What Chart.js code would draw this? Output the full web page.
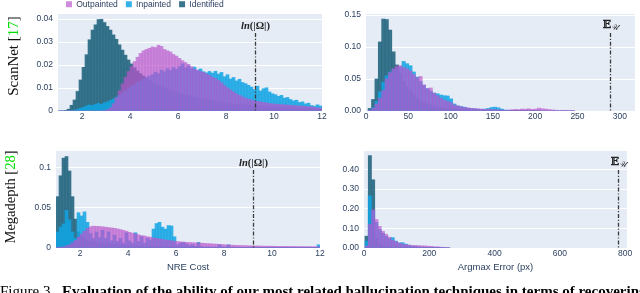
<!DOCTYPE html>
<html><head><meta charset="utf-8">
<script src="https://cdn.jsdelivr.net/npm/chart.js@4/dist/chart.umd.min.js"></script>
<style>
html,body{margin:0;padding:0;background:#fff;width:640px;height:293px;overflow:hidden;}
body{position:relative;}
canvas{position:absolute;}
.rowlab{position:absolute;font-family:"Liberation Serif","Times New Roman",serif;color:#111;white-space:nowrap;line-height:1;transform:translate(-50%,-50%) rotate(-90deg);}
.cite{color:#00e000;}
#caption{position:absolute;left:0;top:283px;font-family:"Liberation Serif","Times New Roman",serif;font-size:15px;line-height:16px;white-space:nowrap;color:#000;}
</style></head><body>
<canvas id="tl" width="332" height="133" style="left:0;top:-8px;width:332px;height:133px;"></canvas>
<canvas id="tr" width="308" height="125" style="left:332px;top:0;width:308px;height:125px;"></canvas>
<canvas id="bl" width="332" height="160" style="left:0;top:125px;width:332px;height:160px;"></canvas>
<canvas id="br" width="308" height="160" style="left:332px;top:125px;width:308px;height:160px;"></canvas>
<div class="rowlab" style="left:13px;top:56px;font-size:15px;">ScanNet [<span class="cite">17</span>]</div>
<div class="rowlab" style="left:10px;top:197px;font-size:14.5px;">Megadepth [<span class="cite">28</span>]</div>
<div id="caption">Figure 3. <b style="margin-left:4px">Evaluation of the ability of our most related hallucination techniques in terms of recovering correspondences on the test set</b></div>
<script>
// ---------- data ----------
const seriesNames = ['Outpainted', 'Inpainted', 'Identified'];

// NRE cost histograms (ScanNet), bins of 0.125 starting at 1.0
const nreBinStart = 1.0, nreBinWidth = 0.125;
const tlOutpainted = [0,0,0,0,0,0,0,0,0,0,
 0,0,0,0,0,0.0002,0.0006,0.0014,0.0032,0.0058,
 0.0088,0.0118,0.0147,0.0172,0.0193,0.0215,0.0234,0.0251,0.0262,0.0268,
 0.0273,0.0279,0.0276,0.0286,0.0281,0.0268,0.0262,0.0257,0.0246,0.0239,
 0.0229,0.0219,0.0211,0.0203,0.0193,0.0182,0.0178,0.0172,0.0168,0.0161,
 0.0155,0.0147,0.0141,0.0133,0.0123,0.0111,0.0101,0.0092,0.0083,0.0075,
 0.0068,0.0061,0.0056,0.0051,0.0048,0.0045,0.0042,0.004,0.0037,0.0035,
 0.0033,0.0031,0.003,0.0029,0.0028,0.0027,0.0026,0.0025,0.0024,0.0023,
 0.0022,0.0021,0.002,0.0019,0.0018,0.0016,0.0014,0.0012];
const tlInpainted = [0,0,0,0,0.0002,0.0004,0.0007,0.0012,0.0016,0.0022,
 0.0026,0.0024,0.003,0.0033,0.0029,0.0036,0.004,0.0046,0.0052,0.006,
 0.0068,0.0079,0.0088,0.0097,0.0108,0.0114,0.0125,0.0131,0.0139,0.0147,
 0.0152,0.0158,0.0169,0.0162,0.0178,0.0171,0.0184,0.0176,0.0189,0.0181,
 0.0193,0.0205,0.0188,0.0196,0.0185,0.0191,0.0176,0.0183,0.0171,0.0166,
 0.0172,0.0165,0.0173,0.0161,0.0168,0.0149,0.0158,0.0139,0.0146,0.0131,
 0.0138,0.0124,0.0119,0.0112,0.0104,0.0093,0.0108,0.0087,0.0097,0.0101,
 0.0083,0.0075,0.0071,0.0064,0.0068,0.0056,0.0059,0.005,0.0044,0.0047,
 0.0037,0.004,0.0031,0.0034,0.0024,0.0021,0.0027,0.0022];
const tlIdentified = [0,0,0.0003,0.0008,0.0025,0.0048,0.0085,0.0135,0.019,0.0245,
 0.031,0.0352,0.0375,0.0398,0.0399,0.0385,0.0368,0.0352,0.0331,0.0312,
 0.0288,0.0265,0.0243,0.0222,0.0205,0.0188,0.0174,0.0162,0.0152,0.0141,
 0.0133,0.0125,0.0118,0.0111,0.0105,0.0099,0.0094,0.0089,0.0085,0.0081,
 0.0077,0.0073,0.0069,0.0066,0.0062,0.0059,0.0056,0.0054,0.0051,0.0049,
 0.0046,0.0044,0.0042,0.004,0.0038,0.0036,0.0034,0.0033,0.0031,0.003,
 0.0028,0.0027,0.0026,0.0025,0.0024,0.0023,0.0022,0.0021,0.002,0.0019,
 0.0018,0.0018,0.0017,0.0016,0.0015,0.0015,0.0014,0.0013,0.0013,0.0012,
 0.0011,0.0011,0.001,0.001,0.0009,0.0009,0.0008,0.0008];

// Argmax error histograms (ScanNet), bins of 4 px starting at 2.5
const trBinStart = 2.5, trBinWidth = 4;
const trOutpainted = [0.001,0.004,0.011,0.02,0.032,0.05,0.06,0.066,0.07,0.071,
 0.068,0.066,0.0625,0.057,0.052,0.054,0.041,0.035,0.036,0.028,
 0.024,0.02,0.017,0.015,0.013,0.0095,0.008,0.0065,0.0055,0.0048,
 0.0042,0.0037,0.0033,0.003,0.0025,0.0028,0.0024,0.0022,0.0018,0.0015,
 0.0012,0.0015,0.002,0.0025,0.0022,0.003,0.0028,0.0035,0.0025,0.003,
 0.0045,0.0035,0.003,0.0022,0.0018,0.0012,0.0008,0.0012,0.0006,0.0008,
 0.0004];
const trInpainted = [0.001,0.005,0.015,0.03,0.045,0.055,0.061,0.065,0.067,0.069,
 0.0775,0.074,0.0707,0.061,0.053,0.046,0.04,0.035,0.031,0.028,
 0.027,0.025,0.024,0.0235,0.019,0.011,0.008,0.007,0.006,0.0045,
 0.004,0.0035,0.003,0.0025,0.003,0.004,0.0055,0.006,0.005,0.003,
 0.0015,0.0005,0,0,0,0,0,0,0,0,
 0,0,0,0,0,0,0,0,0,0,
 0];
const trIdentified = [0.004,0.018,0.05,0.108,0.1437,0.143,0.1265,0.0925,0.072,0.058,
 0.047,0.038,0.031,0.025,0.02,0.016,0.013,0.011,0.009,0.0075,
 0.0063,0.0053,0.0045,0.0038,0.0032,0.0027,0.0023,0.0019,0.0016,0.0013,
 0.0011,0.0009,0.0008,0.0007,0.0006,0.0005,0.0005,0.0004,0.0004,0.0003,
 0.0003,0.0003,0.0002,0.0002,0.0002,0.0002,0.0001,0.0001,0.0001,0.0001,
 0.0001,0,0,0,0,0,0,0,0,0,
 0];

// NRE cost histograms (Megadepth), bins of 0.125 starting at 1.0
const blOutpainted = [0.0005,0.001,0.0015,0.0025,0.004,0.0065,0.0095,0.0135,0.0175,0.021,
 0.0245,0.0265,0.0272,0.027,0.0268,0.0265,0.026,0.0255,0.025,0.0245,
 0.0238,0.023,0.022,0.021,0.0195,0.0185,0.0175,0.0165,0.0155,0.015,
 0.014,0.0135,0.0125,0.012,0.0112,0.0106,0.01,0.0095,0.009,0.0085,
 0.008,0.0077,0.0074,0.0071,0.0068,0.0066,0.0064,0.0062,0.006,0.0058,
 0.0055,0.0053,0.005,0.0048,0.0045,0.0043,0.004,0.0038,0.0036,0.0034,
 0.0032,0.0031,0.003,0.0029,0.0028,0.0027,0.0026,0.0025,0.0024,0.0023,
 0.0023,0.0022,0.0022,0.0021,0.0021,0.002,0.002,0.002,0.0019,0.0019,
 0.0018,0.0018,0.0018,0.0017,0.0017,0.0016,0.0016,0.0015];
const blInpainted = [0.02,0.026,0.03,0.047,0.035,0.02,0.012,0.044,0.04,0.045,
 0.032,0.018,0.012,0.02,0.013,0.022,0.012,0.02,0.009,0.016,
 0.008,0.012,0.006,0.019,0.009,0.006,0.019,0.008,0.014,0.006,
 0.012,0.01,0.0236,0.0305,0.032,0.026,0.0236,0.028,0.0275,0.014,
 0.004,0.006,0.007,0.005,0.003,0.004,0.002,0.007,0.002,0.001,
 0.0015,0.001,0.0012,0.001,0.004,0.0015,0.001,0.004,0.0008,0.0006,
 0.0005,0.0006,0.0004,0.0005,0.0004,0.0003,0.0005,0.0004,0.0003,0.0004,
 0.0003,0.0004,0.0003,0.0003,0.0002,0.0003,0.0002,0.0003,0.0002,0.0002,
 0.0002,0.0003,0.0002,0.0002,0.0002,0.0002,0.0003,0.004];
const blIdentified = [0.064,0.09,0.112,0.114,0.096,0.064,0.036,0.02,0.015,0.012,
 0.01,0.0088,0.0078,0.007,0.0064,0.0058,0.0053,0.0049,0.0045,0.0042,
 0.0039,0.0036,0.0034,0.0032,0.003,0.0028,0.0026,0.0025,0.0023,0.0022,
 0.0021,0.002,0.0019,0.0018,0.0017,0.0016,0.0015,0.0014,0.0013,0.0013,
 0.0012,0.0012,0.0011,0.0011,0.001,0.001,0.0009,0.0009,0.0008,0.0008,
 0.0008,0.0007,0.0007,0.0007,0.0006,0.0006,0.0006,0.0005,0.0005,0.0005,
 0.0005,0.0004,0.0004,0.0004,0.0004,0.0004,0.0003,0.0003,0.0003,0.0003,
 0.0003,0.0003,0.0003,0.0002,0.0002,0.0002,0.0002,0.0002,0.0002,0.0002,
 0.0002,0.0002,0.0002,0.0002,0.0001,0.0001,0.0001,0.0001];

// Argmax error histograms (Megadepth), bins of 10 px starting at 3
const brBinStart = 3, brBinWidth = 10;
const brOutpainted = [0.01,0.12,0.195,0.145,0.11,0.085,0.07,0.055,0.04,0.032,
 0.025,0.02,0.017,0.015,0.013,0.013,0.012,0.011,0.011,0.009,
 0.008,0.006,0.006,0.004,0.003,0.002];
const brInpainted = [0.035,0.265,0.19,0.13,0.095,0.075,0.06,0.048,0.053,0.035,
 0.026,0.027,0.02,0.014,0.01,0.008,0.006,0.004,0.003,0.002,
 0.0015,0.001,0.0008,0.0005,0.0003,0];
const brIdentified = [0.06,0.47,0.347,0.05,0.02,0.012,0.008,0.005,0.004,0.003,
 0.002,0.0015,0.001,0.001,0.0008,0.0006,0.0005,0.0004,0.0003,0.0002,
 0.0002,0.0001,0.0001,0,0,0];

// tick labels
const nreXTicks = [2, 4, 6, 8, 10, 12];
const nreXLabels = ['2', '4', '6', '8', '10', '12'];
const tlYTicks = [0, 0.01, 0.02, 0.03, 0.04];
const tlYLabels = ['0', '0.01', '0.02', '0.03', '0.04'];
const trXTicks = [0, 50, 100, 150, 200, 250, 300];
const trXLabels = ['0', '50', '100', '150', '200', '250', '300'];
const trYTicks = [0, 0.05, 0.1, 0.15];
const trYLabels = ['0.00', '0.05', '0.10', '0.15'];
const blYTicks = [0, 0.05, 0.1];
const blYLabels = ['0', '0.05', '0.1'];
const brXTicks = [0, 200, 400, 600, 800];
const brXLabels = ['0', '200', '400', '600', '800'];
const brYTicks = [0, 0.1, 0.2, 0.3, 0.4];
const brYLabels = ['0.00', '0.10', '0.20', '0.30', '0.40'];

// reference lines
const lnOmega = 9.21;          // ln(|Ω|)
const expUniformScanNet = 288; // E_U
const expUniformMega = 778;    // E_U

// ---------- style ----------
const colors = {
  Outpainted: 'rgba(186,85,205,0.67)',
  Inpainted: 'rgba(18,164,227,0.85)',
  Identified: 'rgba(36,102,128,0.9)'
};
const tickColor = '#2a3f5f';
const sansFamily = '"Liberation Sans", Arial, sans-serif';
Chart.defaults.font.family = sansFamily;

function binCenters(start, width, n) {
  const c = [];
  for (let i = 0; i < n; i++) c.push(start + width * (i + 0.5));
  return c;
}

const plotBg = {
  id: 'plotBg',
  beforeDraw(chart) {
    const { ctx, chartArea: a } = chart;
    ctx.save();
    ctx.fillStyle = '#e5ecf6';
    ctx.fillRect(a.left, a.top, a.right - a.left, a.bottom - a.top);
    ctx.restore();
  }
};

const legendHeight = {
  id: 'legendHeight',
  beforeLayout(chart, args, opts) {
    const lg = chart.legend;
    if (lg && !lg.__patched) {
      const f = lg.fit;
      lg.fit = function () { f.call(this); if (this.options.display) this.height = opts.height || 22; };
      lg.__patched = true;
    }
  }
};

const refLine = {
  id: 'refLine',
  afterDatasetsDraw(chart, args, opts) {
    if (opts.value === undefined) return;
    const { ctx, chartArea: a } = chart;
    const x = Math.round(chart.scales.x.getPixelForValue(opts.value)) + 0.5;
    ctx.save();
    ctx.strokeStyle = '#3a3a3a';
    ctx.lineWidth = 1.3;
    ctx.setLineDash([4, 1.8, 1.2, 1.8]);
    ctx.beginPath();
    ctx.moveTo(x, a.top + 19);
    ctx.lineTo(x, a.bottom);
    ctx.stroke();
    ctx.setLineDash([]);
    ctx.fillStyle = '#222';
    ctx.textBaseline = 'middle';
    const cy = a.top + opts.labelDy;
    if (opts.kind === 'ln') {
      const f1 = 'italic bold 10.5px "Liberation Serif", serif';
      const f2 = 'bold 10.5px "Liberation Serif", serif';
      ctx.font = f1; const w1 = ctx.measureText('ln').width;
      ctx.font = f2; const w2 = ctx.measureText('(|Ω|)').width;
      let sx = x - (w1 + w2) / 2;
      ctx.textAlign = 'left';
      ctx.font = f1; ctx.fillText('ln', sx, cy);
      ctx.font = f2; ctx.fillText('(|Ω|)', sx + w1, cy);
    } else {
      const f1 = 'bold 11px "DejaVu Serif", serif';
      const f2 = 'italic 8px "DejaVu Serif", serif';
      ctx.font = f1; const w1 = ctx.measureText('𝔼').width;
      ctx.font = f2; const w2 = ctx.measureText('𝒰').width;
      let sx = x - (w1 + w2) / 2;
      ctx.textAlign = 'left';
      ctx.font = f1; ctx.fillText('𝔼', sx, cy);
      ctx.font = f2; ctx.fillText('𝒰', sx + w1, cy + 2.5);
    }
    ctx.restore();
  }
};

function makePanel(p) {
  const centers = binCenters(p.binStart, p.binWidth, p.series[0].length);
  const datasets = seriesNames.map((name, k) => ({
    label: name,
    data: centers.map((x, i) => ({ x: x, y: p.series[k][i] })),
    backgroundColor: colors[name],
    borderWidth: 0,
    grouped: false,
    barPercentage: 1,
    categoryPercentage: 1
  }));
  const tickFont = { size: 8.5, family: sansFamily };
  return new Chart(document.getElementById(p.id), {
    type: 'bar',
    data: { datasets },
    plugins: [plotBg, legendHeight, refLine],
    options: {
      responsive: false,
      maintainAspectRatio: false,
      devicePixelRatio: 1,
      animation: false,
      layout: { padding: p.pad },
      plugins: {
        legend: {
          display: !!p.legend,
          position: 'top',
          align: 'start',
          fullSize: false,
          labels: { boxWidth: 6, boxHeight: 6, padding: 8, color: '#2a3f5f', font: { size: 8.5, family: sansFamily } }
        },
        tooltip: { enabled: false },
        legendHeight: { height: 22 },
        refLine: { value: p.refX, kind: p.refKind, labelDy: p.labelDy }
      },
      scales: {
        x: {
          type: 'linear', min: p.xMin, max: p.xMax, offset: false,
          grid: { display: false, offset: false, drawTicks: false },
          border: { display: false },
          afterBuildTicks: s => { s.ticks = p.xTicks.map(v => ({ value: v })); },
          afterFit: s => { s.height = p.xAxisH; },
          ticks: { padding: 1, color: tickColor, font: tickFont, autoSkip: false, maxRotation: 0,
                   callback: (v, i) => p.xLabels[i] },
          title: p.xTitle ? { display: true, text: p.xTitle, color: tickColor,
                   font: { size: 9.5, family: sansFamily }, padding: { top: 0, bottom: 12 } } : { display: false }
        },
        y: {
          type: 'linear', min: 0, max: p.yMax,
          grid: { color: '#ffffff', lineWidth: 1, drawTicks: false },
          border: { display: false },
          afterBuildTicks: s => { s.ticks = p.yTicks.map(v => ({ value: v })); },
          afterFit: s => { s.width = p.yAxisW; },
          ticks: { padding: 5, color: tickColor, font: tickFont, autoSkip: false,
                   callback: (v, i) => p.yLabels[i] }
        }
      }
    }
  });
}

makePanel({ id: 'tl', binStart: nreBinStart, binWidth: nreBinWidth,
  series: [tlOutpainted, tlInpainted, tlIdentified],
  xMin: 1, xMax: 12, yMax: 0.0422, xTicks: nreXTicks, xLabels: nreXLabels,
  yTicks: tlYTicks, yLabels: tlYLabels, yAxisW: 58, xAxisH: 14,
  pad: { top: 0, right: 10, bottom: 0, left: 0 }, legend: true,
  refX: lnOmega, refKind: 'ln', labelDy: 12 });

makePanel({ id: 'tr', binStart: trBinStart, binWidth: trBinWidth,
  series: [trOutpainted, trInpainted, trIdentified],
  xMin: 0, xMax: 318, yMax: 0.1516, xTicks: trXTicks, xLabels: trXLabels,
  yTicks: trYTicks, yLabels: trYLabels, yAxisW: 34, xAxisH: 14,
  pad: { top: 14, right: 5, bottom: 0, left: 0 },
  refX: expUniformScanNet, refKind: 'E', labelDy: 11 });

makePanel({ id: 'bl', binStart: nreBinStart, binWidth: nreBinWidth,
  series: [blOutpainted, blInpainted, blIdentified],
  xMin: 1, xMax: 12, yMax: 0.1209, xTicks: nreXTicks, xLabels: nreXLabels,
  yTicks: blYTicks, yLabels: blYLabels, yAxisW: 56, xAxisH: 37,
  pad: { top: 26, right: 12, bottom: 0, left: 0 }, xTitle: 'NRE Cost',
  refX: lnOmega, refKind: 'ln', labelDy: 12 });

makePanel({ id: 'br', binStart: brBinStart, binWidth: brBinWidth,
  series: [brOutpainted, brInpainted, brIdentified],
  xMin: 0, xMax: 806, yMax: 0.4934, xTicks: brXTicks, xLabels: brXLabels,
  yTicks: brYTicks, yLabels: brYLabels, yAxisW: 32, xAxisH: 37,
  pad: { top: 26, right: 13, bottom: 0, left: 0 }, xTitle: 'Argmax Error (px)',
  refX: expUniformMega, refKind: 'E', labelDy: 11 });
</script>
</body></html>
